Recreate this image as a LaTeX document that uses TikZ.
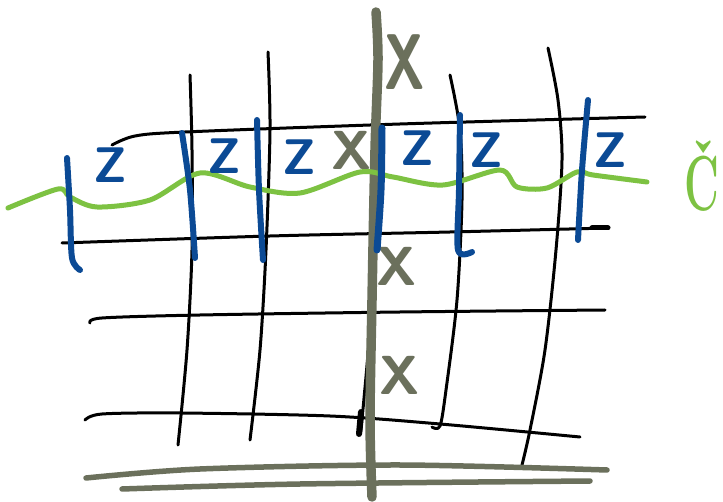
\documentclass[tikz,border=0pt]{standalone}
\usepackage{xcolor}
\usepackage{tikz}

\definecolor{inkblue}{HTML}{0B4A95}
\definecolor{inkgreen}{HTML}{7DC242}
\definecolor{inkgray}{HTML}{6B705C}

\begin{document}
\begin{tikzpicture}[x=1pt, y=-1pt, line cap=round, line join=round,
    gridline/.style={black, line width=3pt},
    axisline/.style={inkgray, line width=9.5pt},
    floorline/.style={inkgray, line width=5.5pt},
    bracket/.style={inkblue, line width=6pt},
    wave/.style={inkgreen, line width=5pt},
    zlabel/.style={inkblue, inner sep=0pt, font=\sffamily\bfseries\fontsize{50}{50}\selectfont},
    xlabel/.style={inkgray, inner sep=0pt, font=\sffamily\bfseries\fontsize{55}{55}\selectfont}]
        \useasboundingbox (0, 0) rectangle (723, 502);

        % Horizontal grid lines
        \draw[gridline] plot[smooth] coordinates {(112,145) (135,136) (185,132) (400,124) (645,117)};
        \draw[gridline] plot[smooth] coordinates {(62,243) (270,236) (450,232) (608,228)};
        \draw[gridline, line width=5pt] (592,228) -- (608,228);
        \draw[gridline] plot[smooth] coordinates {(90,323) (102,318) (200,315) (400,312) (605,310)};
        \draw[gridline] plot[smooth] coordinates {(85,420) (102,414) (180,413) (330,416) (440,424) (580,437)};

        % Vertical grid lines
        \draw[gridline] plot[smooth] coordinates {(190,75) (192,150) (192,250) (187,350) (178,445)};
        \draw[gridline] plot[smooth] coordinates {(268,52) (270,130) (266,250) (260,350) (250,440)};
        \draw[gridline] plot[smooth] coordinates {(378,55) (377,150) (372,300) (362,420) (360,434)};
        \draw[gridline, line width=6pt] (361,412) -- (359,434);
        \draw[gridline] plot[smooth] coordinates {(450,75) (460,130) (462,200) (457,300) (446,390) (440,426) (432,427)};
        \draw[gridline] plot[smooth] coordinates {(548,48) (558,100) (562,160) (556,250) (545,350) (530,430) (522,465)};

        % X labels
        \node[xlabel, xscale=0.7, transform shape, font=\sffamily\bfseries\fontsize{79}{79}\selectfont] (x1) at (405,62) {X};
        \node[xlabel] (x2) at (352,150) {X};
        \node[xlabel] (x3) at (397,266) {X};
        \node[xlabel] (x4) at (400,375) {X};

        % Axis and floor
        \draw[axisline] plot[smooth] coordinates {(376,12) (378,60) (375,150) (372,300) (370,420) (372,497)};
        \draw[floorline] plot[smooth] coordinates {(607,470) (400,465) (200,469) (86,478)};
        \draw[floorline] plot[smooth] coordinates {(122,489) (300,484) (590,481)};

        % Green cut
        \draw[wave] plot[smooth] coordinates {(8,208) (58,189) (70,197) (97,207) (150,200) (200,173)
            (250,187) (300,193) (360,172) (393,177) (443,185) (500,170) (517,187) (547,188)
            (577,172) (593,175) (647,182)};
        \node[inkgreen, inner sep=0pt, anchor=base, xscale=0.55, transform shape,
            font=\bfseries\fontsize{78}{78}\selectfont] (c) at (702,211) {Č};

        % Blue brackets
        \draw[bracket] plot[smooth] coordinates {(67,158) (70,210) (72,258) (80,270)};
        \draw[bracket] plot[smooth] coordinates {(182,133) (190,190) (195,258)};
        \draw[bracket] plot[smooth] coordinates {(257,120) (259,190) (263,260)};
        \draw[bracket, line width=7pt] plot[smooth] coordinates {(382,128) (381,190) (377,250)};
        \draw[bracket] plot[smooth] coordinates {(460,115) (459,190) (458,250) (472,252)};
        \draw[bracket] plot[smooth] coordinates {(588,100) (582,170) (578,240)};

        % Z labels
        \node[zlabel] (z1) at (110,165) {Z};
        \node[zlabel] (z2) at (224,156) {Z};
        \node[zlabel] (z3) at (299,157) {Z};
        \node[zlabel] (z4) at (417,148) {Z};
        \node[zlabel] (z5) at (486,150) {Z};
        \node[zlabel] (z6) at (610,150) {Z};
    \end{tikzpicture}
\end{document}
